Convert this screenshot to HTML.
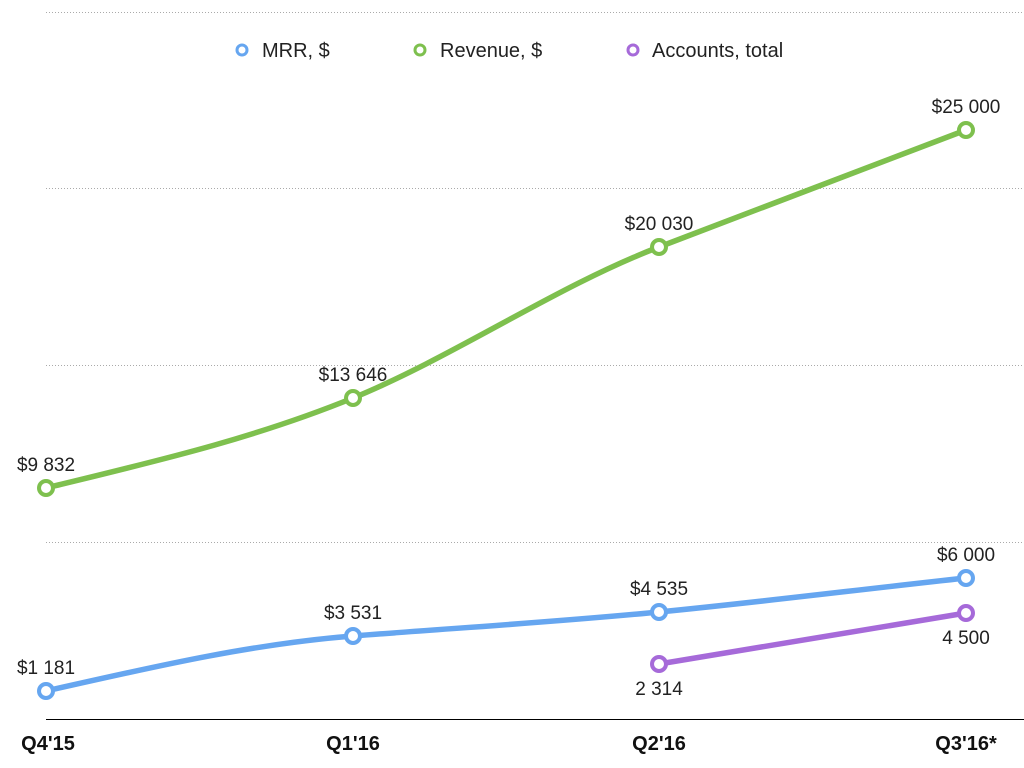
<!DOCTYPE html>
<html><head><meta charset="utf-8"><style>
body{margin:0;background:#fff;}
svg{display:block;font-family:"Liberation Sans",sans-serif;}
</style></head><body>
<svg width="1024" height="768" viewBox="0 0 1024 768">
<g stroke="#aaa" stroke-width="1" stroke-dasharray="1,2">
<line x1="46" y1="12.5" x2="1024" y2="12.5"/>
<line x1="46" y1="188.5" x2="1024" y2="188.5"/>
<line x1="46" y1="365.5" x2="1024" y2="365.5"/>
<line x1="46" y1="542.5" x2="1024" y2="542.5"/>
</g>
<line x1="46" y1="719.5" x2="1024" y2="719.5" stroke="#000" stroke-width="1"/>
<g font-size="20" fill="#222">
<circle cx="242" cy="50" r="5" fill="#fff" stroke="#66a6f0" stroke-width="3"/><text x="262" y="57">MRR, $</text>
<circle cx="420" cy="50" r="5" fill="#fff" stroke="#7ec04e" stroke-width="3"/><text x="440" y="57">Revenue, $</text>
<circle cx="633" cy="50" r="5" fill="#fff" stroke="#a66ad9" stroke-width="3"/><text x="652" y="57">Accounts, total</text>
</g>
<g fill="none" stroke-width="5.5" stroke-linecap="round">
<path d="M46,488 C148,463 250,440 353,398 C455,356 557,286 659,247 C761,208 864,169 966,130" stroke="#7ec04e"/>
<path d="M46,691 C148,668 250,644 353,636 C455,628 557,622 659,612 C761,602 864,589 966,578" stroke="#66a6f0"/>
<path d="M659,664 L966,613" stroke="#a66ad9"/>
</g>
<g fill="#fff" stroke-width="4">
<circle cx="46" cy="488" r="7" stroke="#7ec04e"/><circle cx="353" cy="398" r="7" stroke="#7ec04e"/><circle cx="659" cy="247" r="7" stroke="#7ec04e"/><circle cx="966" cy="130" r="7" stroke="#7ec04e"/>
<circle cx="46" cy="691" r="7" stroke="#66a6f0"/><circle cx="353" cy="636" r="7" stroke="#66a6f0"/><circle cx="659" cy="612" r="7" stroke="#66a6f0"/><circle cx="966" cy="578" r="7" stroke="#66a6f0"/>
<circle cx="659" cy="664" r="7" stroke="#a66ad9"/><circle cx="966" cy="613" r="7" stroke="#a66ad9"/>
</g>
<g font-size="19" fill="#222" text-anchor="middle">
<text x="46" y="471">$9 832</text>
<text x="353" y="381">$13 646</text>
<text x="659" y="230">$20 030</text>
<text x="966" y="113">$25 000</text>
<text x="46" y="674">$1 181</text>
<text x="353" y="619">$3 531</text>
<text x="659" y="595">$4 535</text>
<text x="966" y="561">$6 000</text>
<text x="659" y="695">2 314</text>
<text x="966" y="644">4 500</text>
</g>
<g font-size="20" font-weight="bold" fill="#111" text-anchor="middle">
<text x="48" y="750">Q4'15</text>
<text x="353" y="750">Q1'16</text>
<text x="659" y="750">Q2'16</text>
<text x="966" y="750">Q3'16*</text>
</g>
</svg>
</body></html>
